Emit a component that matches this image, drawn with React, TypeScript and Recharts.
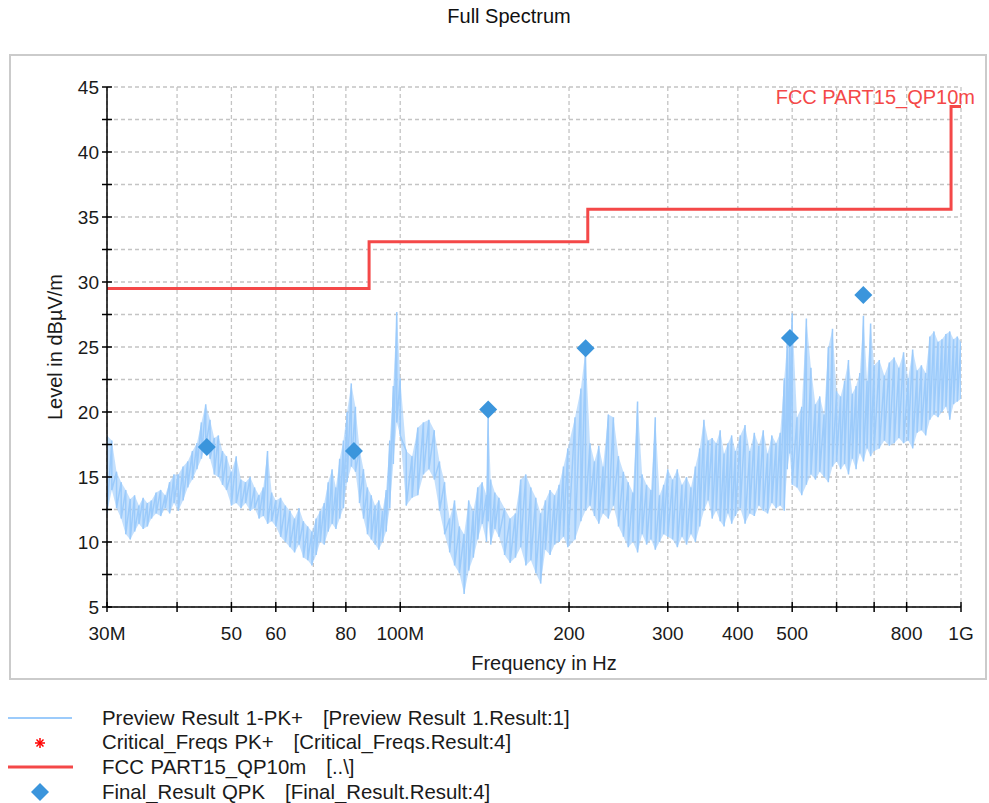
import React from 'react';
import {
  ComposedChart,
  XAxis,
  YAxis,
  CartesianGrid,
  Line,
  Area,
  Scatter,
  Legend,
  ReferenceDot,
  Label,
} from 'recharts';

const FONT = '"Liberation Sans", Arial, sans-serif';

// axis ticks (MHz / dBµV/m)
const X_TICKS = [30, 40, 50, 60, 70, 80, 100, 200, 300, 400, 500, 600, 700, 800, 1000];
const X_LABELS: Record<number, string> = {
  30: '30M', 50: '50', 60: '60', 80: '80', 100: '100M', 200: '200',
  300: '300', 400: '400', 500: '500', 800: '800', 1000: '1G',
};
const Y_TICKS = [5, 7.5, 10, 12.5, 15, 17.5, 20, 22.5, 25, 27.5, 30, 32.5, 35, 37.5, 40, 42.5, 45];

// FCC PART15 QP 10m limit
const LIMIT_FREQ = [30, 88, 216, 960, 1000];
const LIMIT_LEVEL = [29.5, 33.1, 35.6, 43.5, 43.5];

// Final_Result QPK
const FINAL_FREQ = [45.2, 82.7, 143.5, 214.1, 495.4, 669.6];
const FINAL_LEVEL = [17.3, 17.0, 20.2, 24.9, 25.7, 29.0];

// Preview Result 1-PK+ : per frequency the upper and lower value of the trace
const PK_FREQ = [
  30, 30.6, 31.2, 31.8, 32.4, 33, 33.6, 34.2, 34.8, 35.4, 36, 36.7, 37.4, 38.1, 38.8, 39.5,
  40.2, 41, 41.8, 42.6, 43.4, 44.2, 45, 45.8, 46.6, 47.4, 48.2, 49, 50, 51, 52, 53, 54, 55, 56, 57, 58, 59, 60,
  61.2, 62.4, 63.6, 64.8, 66, 67.2, 68.4, 69.6, 70.8, 72, 73.2, 74.4, 75.6, 76.8, 78, 79.2,
  80.4, 81.8, 83.2, 84.6, 86, 87.4, 88.8, 90.2, 91.6, 93, 94.4, 95.8, 97.2, 98.6, 100,
  102.5, 105, 107.5, 110, 112.5, 115, 117.5, 120, 122.5, 125, 127.5, 130, 132.5, 135, 137.5, 140, 142.5, 143.5, 145, 147.5, 150,
  153.5, 157, 160.5, 164, 167.5, 171, 174.5, 178, 181.5, 185, 188.5, 192, 195.5, 199,
  205, 210, 214, 218, 222, 226, 230, 235, 240, 245, 250, 255, 260, 265, 270, 275, 280, 285, 290, 295, 300,
  306, 312, 318, 324, 330, 336, 342, 348, 354, 360, 366, 372, 378, 384, 390, 396,
  404, 412, 420, 428, 436, 444, 452, 460, 468, 476, 484, 490, 495, 500,
  510, 520, 530, 540, 550, 560, 570, 580, 590, 600, 610, 620, 630, 640, 650, 660, 670, 680, 690, 700,
  715, 730, 745, 760, 775, 790, 805, 820, 835, 850, 865, 880, 895, 910, 925, 940, 955, 970, 985, 1000,
];
const PK_HI = [
  18.2, 17.8, 15.4, 14.6, 14.0, 13.3, 13.6, 12.8, 13.4, 13.0, 13.2, 13.8, 14.0, 13.6, 14.6, 15.2,
  15.2, 15.8, 16.2, 17.0, 17.6, 19.2, 20.6, 19.4, 18.0, 18.2, 17.0, 16.6, 15.4, 16.6, 14.8, 14.6, 15.0, 14.2, 13.6, 14.2, 17.0, 13.8, 13.2,
  13.4, 12.8, 12.4, 11.8, 12.6, 11.6, 11.2, 10.8, 11.8, 12.4, 13.0, 14.6, 15.6, 14.2, 16.4, 17.8,
  20.0, 22.2, 20.4, 17.2, 15.6, 14.2, 13.6, 12.8, 13.2, 12.4, 14.0, 17.8, 22.0, 27.7, 22.6,
  17.0, 16.6, 18.8, 19.2, 19.4, 18.6, 16.2, 14.6, 11.8, 13.2, 11.2, 10.6, 13.2, 12.4, 14.2, 14.6, 13.6, 20.0, 14.8, 13.8, 13.4,
  12.6, 11.8, 12.2, 14.8, 15.2, 14.2, 13.4, 12.2, 13.2, 14.0, 13.6, 14.4, 15.8, 17.2,
  19.6, 21.8, 24.8, 17.6, 16.2, 17.4, 15.8, 19.8, 19.6, 16.6, 15.4, 14.6, 13.8, 20.8, 15.2, 14.4, 14.0, 19.6, 13.6, 14.4, 15.6,
  14.8, 15.6, 14.4, 15.0, 14.2, 15.8, 17.2, 19.4, 17.8, 18.0, 17.6, 18.6, 16.8, 17.6, 18.2, 17.0,
  18.2, 19.0, 17.0, 18.4, 17.4, 18.6, 16.8, 18.2, 17.6, 18.4, 22.6, 25.4, 25.2, 27.6,
  19.6, 20.4, 27.2, 23.4, 20.6, 21.2, 19.8, 25.0, 26.4, 21.6, 21.2, 22.4, 24.0, 21.4, 22.0, 23.0, 27.4, 22.4, 26.8, 23.6,
  24.0, 22.8, 23.8, 24.2, 23.4, 24.6, 22.6, 24.8, 23.2, 23.6, 23.0, 25.8, 26.2, 25.4, 25.6, 26.0, 26.2, 25.6, 25.8, 25.4,
];
const PK_LO = [
  12.2, 14.0, 12.6, 11.8, 10.6, 10.2, 10.8, 11.4, 11.0, 11.2, 11.8, 12.2, 12.0, 12.6, 12.2, 13.0,
  12.4, 13.2, 14.2, 14.8, 15.6, 16.4, 17.4, 16.4, 15.2, 15.0, 14.4, 14.0, 12.8, 13.0, 12.6, 13.0, 12.4, 12.6, 11.8, 12.0, 11.4, 11.6, 11.2,
  10.4, 10.0, 9.6, 9.2, 9.8, 8.8, 8.6, 8.2, 9.0, 10.0, 9.8, 10.8, 11.4, 11.0, 11.8, 12.6,
  14.6, 15.8, 15.4, 13.0, 11.8, 10.6, 10.2, 9.8, 9.4, 10.0, 10.8, 12.6, 16.0, 19.2, 18.2,
  12.8, 13.4, 13.6, 15.2, 15.6, 14.8, 12.4, 10.6, 9.2, 8.2, 7.6, 6.0, 7.8, 8.8, 10.2, 11.4, 10.0, 11.6, 9.8, 11.0, 10.4,
  9.0, 8.4, 8.8, 9.6, 8.2, 8.6, 7.6, 6.8, 9.4, 9.0, 9.8, 10.0, 10.4, 9.6,
  10.2, 11.6, 12.4, 12.8, 12.0, 11.4, 12.2, 11.8, 12.8, 11.2, 10.4, 9.6, 10.0, 9.2, 10.6, 9.8, 10.2, 9.4, 10.0, 10.6, 10.4,
  10.2, 9.6, 10.4, 9.8, 10.6, 10.0, 11.2, 12.4, 13.2, 11.8, 12.4, 11.6, 11.2, 12.2, 11.4, 12.0,
  12.6, 11.4, 12.2, 12.0, 12.8, 12.4, 12.2, 13.0, 12.6, 12.8, 12.4, 15.6, 16.8, 14.4,
  14.2, 13.6, 14.4, 15.2, 14.8, 15.4, 15.0, 14.6, 15.8, 16.2, 15.6, 16.0, 15.2, 16.4, 15.6, 16.8, 16.2, 17.2, 16.6, 17.0,
  17.2, 17.8, 17.4, 17.6, 18.0, 17.6, 17.8, 17.2, 18.4, 18.6, 18.2, 19.4, 19.8, 19.6, 20.0, 20.4, 19.4, 20.6, 20.8, 21.0,
];

const LEGEND_ROWS = [
  'Preview Result 1-PK+   [Preview Result 1.Result:1]',
  'Critical_Freqs PK+   [Critical_Freqs.Result:4]',
  'FCC PART15_QP10m   [..\\]',
  'Final_Result QPK   [Final_Result.Result:4]',
];

const PK_COLOR = '#9ccbfb';
const LIMIT_COLOR = '#f44848';
const FINAL_COLOR = '#3b95dc';

// trace goes up and down at every frequency, like the dense receiver sweep
const pkData = PK_FREQ.flatMap((f, i) => [
  { f, v: PK_HI[i] },
  { f, v: PK_LO[i] },
]);
const pkBand = PK_FREQ.map((f, i) => ({ f, band: [PK_LO[i], PK_HI[i]] }));
const limitData = LIMIT_FREQ.map((f, i) => ({ f, v: LIMIT_LEVEL[i] }));
const finalData = FINAL_FREQ.map((f, i) => ({ f, v: FINAL_LEVEL[i] }));

const XTick = (props: any) => {
  const { x, y, payload } = props;
  const label = X_LABELS[payload.value];
  return (
    <g>
      <line x1={x} x2={x} y1={y - 5} y2={y + 5} stroke="#000" strokeWidth={1.5} />
      {label && (
        <text x={x} y={y + 33} textAnchor="middle" fontSize={19} fontFamily={FONT} fill="#1a1a1a">
          {label}
        </text>
      )}
    </g>
  );
};

const YTick = (props: any) => {
  const { x, y, payload } = props;
  const showLabel = payload.value % 5 === 0;
  return (
    <g>
      <line x1={x - 5} x2={x + 5} y1={y} y2={y} stroke="#000" strokeWidth={1.5} />
      {showLabel && (
        <text x={x - 8} y={y + 7} textAnchor="end" fontSize={19} fontFamily={FONT} fill="#1a1a1a">
          {payload.value}
        </text>
      )}
    </g>
  );
};

const Diamond = (props: any) => {
  const { cx, cy } = props;
  const r = 9;
  return <path d={`M${cx},${cy - r}L${cx + r},${cy}L${cx},${cy + r}L${cx - r},${cy}Z`} fill={FINAL_COLOR} />;
};

const LegendIcon = ({ index }: { index: number }) => {
  if (index === 0) return <line x1={8} x2={72} y1={12} y2={12} stroke={PK_COLOR} strokeWidth={2} />;
  if (index === 2) return <line x1={8} x2={73} y1={12} y2={12} stroke={LIMIT_COLOR} strokeWidth={3} />;
  if (index === 1)
    return (
      <g stroke="#ff0000" strokeWidth={1.5}>
        <line x1={35} x2={45} y1={12} y2={12} />
        <line x1={40} x2={40} y1={7} y2={17} />
        <line x1={36.5} x2={43.5} y1={8.5} y2={15.5} />
        <line x1={36.5} x2={43.5} y1={15.5} y2={8.5} />
      </g>
    );
  return <path d="M40,3L49,12L40,21L31,12Z" fill={FINAL_COLOR} />;
};

const renderLegend = () => (
  <div style={{ fontFamily: FONT, fontSize: 20.4, color: '#1a1a1a' }}>
    {LEGEND_ROWS.map((row, i) => (
      <div key={row} style={{ display: 'flex', alignItems: 'center', height: 24.6 }}>
        <svg width={102} height={24} style={{ flex: 'none' }}>
          <LegendIcon index={i} />
        </svg>
        <span style={{ whiteSpace: 'pre', wordSpacing: 1 }}>{row}</span>
      </div>
    ))}
  </div>
);

const App: React.FC = () => {
  return (
    <div style={{ position: 'absolute', left: 0, top: 0, width: 989, height: 803, background: '#fff' }}>
      <div
        style={{
          position: 'absolute',
          left: 509,
          top: 5,
          transform: 'translateX(-50%)',
          fontFamily: FONT,
          fontSize: 20,
          color: '#111',
          whiteSpace: 'nowrap',
        }}>
        Full Spectrum
      </div>
      <div
        style={{
          position: 'absolute',
          left: 9,
          top: 54,
          width: 974,
          height: 622,
          border: '2px solid #cbcbcb',
        }}
      />
      <div style={{ position: 'absolute', left: 0, top: 0 }}>
        <ComposedChart
          width={989}
          height={803}
          margin={{ top: 87, right: 28, left: 47, bottom: 146 }}>
          <CartesianGrid stroke="#c4c4c4" strokeDasharray="4 3" strokeWidth={1.3} />
          <XAxis
            dataKey="f"
            type="number"
            scale="log"
            domain={[30, 1000]}
            ticks={X_TICKS}
            interval={0}
            allowDataOverflow
            height={50}
            tickSize={0}
            tickMargin={0}
            tickLine={false}
            tick={<XTick />}
            axisLine={{ stroke: '#000', strokeWidth: 1.5 }}>
            <Label
              content={() => (
                <text x={544} y={670} textAnchor="middle" fontSize={20} fontFamily={FONT} fill="#1a1a1a">
                  Frequency in Hz
                </text>
              )}
            />
          </XAxis>
          <YAxis
            dataKey="v"
            type="number"
            domain={[5, 45]}
            ticks={Y_TICKS}
            interval={0}
            allowDataOverflow
            width={60}
            tickSize={0}
            tickMargin={0}
            tickLine={false}
            tick={<YTick />}
            axisLine={{ stroke: '#000', strokeWidth: 1.5 }}>
            <Label
              content={() => (
                <text
                  transform="translate(62,347) rotate(-90)"
                  textAnchor="middle"
                  fontSize={20}
                  fontFamily={FONT}
                  fill="#1a1a1a">
                  Level in dBµV/m
                </text>
              )}
            />
          </YAxis>
          <Area
            data={pkBand}
            dataKey="band"
            type="linear"
            stroke="none"
            fill={PK_COLOR}
            fillOpacity={0.6}
            dot={false}
            activeDot={false}
            isAnimationActive={false}
          />
          <Line
            data={pkData}
            dataKey="v"
            type="linear"
            stroke={PK_COLOR}
            strokeWidth={1.5}
            dot={false}
            activeDot={false}
            isAnimationActive={false}
          />
          <Line
            data={limitData}
            dataKey="v"
            type="stepAfter"
            stroke={LIMIT_COLOR}
            strokeWidth={3}
            dot={false}
            activeDot={false}
            isAnimationActive={false}
          />
          <Scatter data={finalData} dataKey="v" shape={<Diamond />} isAnimationActive={false} />
          <ReferenceDot
            x={1000}
            y={43.5}
            r={0}
            fill="none"
            stroke="none"
            ifOverflow="visible"
            label={{
              content: (p: any) => (
                <text
                  x={p.viewBox.x + 14}
                  y={p.viewBox.y - 3}
                  textAnchor="end"
                  fontSize={20}
                  fontFamily={FONT}
                  fill={LIMIT_COLOR}>
                  FCC PART15_QP10m
                </text>
              ),
            }}
          />
          <Legend
            layout="horizontal"
            verticalAlign="middle"
            align="center"
            content={renderLegend}
            wrapperStyle={{ position: 'absolute', left: 0, top: 706, width: 700 }}
          />
        </ComposedChart>
      </div>
    </div>
  );
};

export default App;
